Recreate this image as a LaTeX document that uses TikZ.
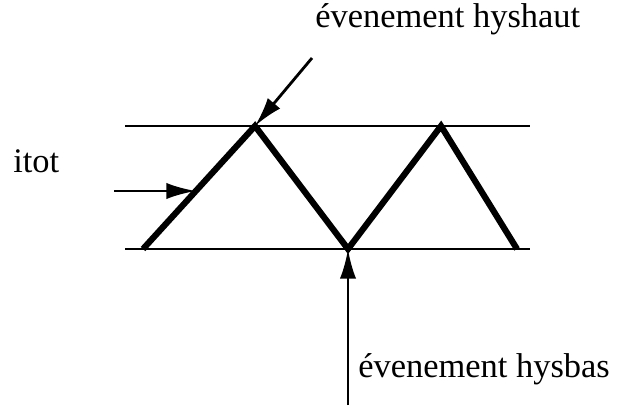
\documentclass[tikz,border=0pt]{standalone}
\usepackage{fontspec}
\setmainfont{Liberation Serif}
\usetikzlibrary{arrows.meta}
\begin{document}
\begin{tikzpicture}[>={Latex[length=21pt,width=11.5pt]}, x=1cm, y=1cm,
    seuil/.style={black, line width=1.4pt},
    signal/.style={black, line width=4.4pt, line join=miter},
    fleche/.style={->, black, line width=2pt},
    etiquette/.style={inner sep=0pt, anchor=base west, font=\fontsize{24.5}{29}\selectfont}]
    \useasboundingbox (0,0) rectangle (15.475,10.125);

    % 1. Les deux seuils hyshaut et hysbas
    \coordinate (hautG) at (3.125,6.975);
    \coordinate (hautD) at (13.25,6.975);
    \coordinate (basG) at (3.125,3.9);
    \coordinate (basD) at (13.25,3.9);
    \draw[seuil] (hautG) -- (hautD);
    \draw[seuil] (basG) -- (basD);

    % 2. Le signal itot en dents de scie
    \coordinate (s0) at (3.575,3.9);
    \coordinate (s1) at (6.375,6.975);
    \coordinate (s2) at (8.7,3.9);
    \coordinate (s3) at (11.025,6.975);
    \coordinate (s4) at (12.925,3.9);
    \draw[signal] (s0) -- (s1) -- (s2) -- (s3) -- (s4);

    % 3. Les etiquettes
    \node[etiquette] (itot) at (0.325,5.825) {itot};
    \node[etiquette] (haut) at (7.875,9.425) {évenement hyshaut};
    \node[etiquette] (bas) at (8.95,0.7) {évenement hysbas};

    % 4. Les fleches vers le signal
    \coordinate (dItot) at (2.85,5.35);
    \coordinate (fItot) at (4.9,5.35);
    \coordinate (dHaut) at (7.8,8.675);
    \coordinate (dBas) at (8.7,0);
    \draw[fleche] (dItot) -- (fItot);
    \draw[fleche] (dHaut) -- (s1);
    \draw[fleche] (dBas) -- (s2);

\end{tikzpicture}
\end{document}
